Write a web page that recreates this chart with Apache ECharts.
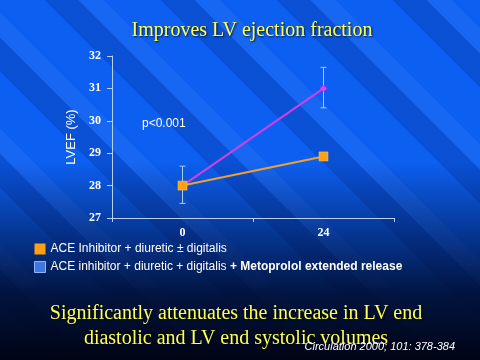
<!DOCTYPE html>
<html>
<head>
<meta charset="utf-8">
<script src="https://cdn.jsdelivr.net/npm/echarts@6/dist/echarts.min.js"></script>
<style>
html,body{margin:0;padding:0;}
#chart{width:480px;height:360px;
background:
 linear-gradient(to bottom, rgba(0,8,40,0) 0%, rgba(0,8,40,0) 45%, rgba(0,20,70,0.55) 65%, rgba(0,12,45,0.9) 82%, rgba(0,4,20,1) 100%),
 repeating-linear-gradient(45deg, rgba(0,0,0,0) 0px, rgba(0,0,0,0) 40px, rgba(0,30,120,0.22) 40px, rgba(0,30,120,0.22) 64px, rgba(90,150,255,0.14) 64px, rgba(90,150,255,0.14) 82px),
 #0c5ff0;}
</style>
</head>
<body>
<div id="chart"></div>
<script>
// ---- data ----
var categories = ['0', '24'];
var seriesNames = ['ACE Inhibitor + diuretic \u00b1 digitalis', 'ACE inhibitor + diuretic + digitalis + Metoprolol extended release'];
var controlValues = [28.0, 28.9];
var metoprololValues = [28.0, 31.0];
var errLow = [27.45, 30.4];
var errHigh = [28.6, 31.65];
var yTicks = [27, 28, 29, 30, 31, 32];

var chart = echarts.init(document.getElementById('chart'), null, {renderer: 'canvas'});
var errData = categories.map(function (c, i) { return [i, errLow[i], errHigh[i]]; });

chart.setOption({
  animation: false,
  backgroundColor: 'transparent',
  title: [{
    text: 'Improves LV ejection fraction', left: 247, textAlign: 'center', top: 16,
    textStyle: {color: '#ffff55', fontFamily: 'Liberation Serif', fontSize: 20, fontWeight: 'normal',
      textShadowColor: 'rgba(0,0,0,0.8)', textShadowBlur: 2, textShadowOffsetX: 1, textShadowOffsetY: 1}
  }],
  grid: {left: 112, right: 86, top: 56, bottom: 142},
  xAxis: {
    type: 'category', data: categories, boundaryGap: true,
    axisLine: {lineStyle: {color: '#b8d0ff', width: 1}},
    axisTick: {show: true, length: 4, lineStyle: {color: '#b8d0ff'}},
    axisLabel: {color: '#ffffff', fontFamily: 'Liberation Serif', fontWeight: 'bold', fontSize: 12, margin: 9}
  },
  yAxis: {
    type: 'value', min: yTicks[0], max: yTicks[yTicks.length - 1], interval: 1,
    name: 'LVEF (%)', nameLocation: 'middle', nameRotate: 90, nameGap: 27,
    nameTextStyle: {color: '#ffffff', fontFamily: 'Liberation Sans', fontSize: 13},
    splitLine: {show: false},
    axisLine: {show: true, lineStyle: {color: '#b8d0ff', width: 1}},
    axisTick: {show: true, length: 5, lineStyle: {color: '#b8d0ff'}},
    axisLabel: {color: '#ffffff', fontFamily: 'Liberation Serif', fontWeight: 'bold', fontSize: 12, margin: 11}
  },
  legend: {
    orient: 'vertical', left: 29, top: 238, itemWidth: 11, itemHeight: 11, itemGap: 6,
    selectedMode: false,
    data: [
      {name: seriesNames[0], icon: 'rect', itemStyle: {color: '#ffa010', borderWidth: 0}},
      {name: seriesNames[1], icon: 'rect', itemStyle: {color: '#3c78e0', borderColor: '#90b4ff', borderWidth: 1}}
    ],
    formatter: function (name) {
      if (name === seriesNames[1]) {
        return '{a|ACE inhibitor + diuretic + digitalis }{b|+ Metoprolol extended release}';
      }
      return '{a|' + name + '}';
    },
    textStyle: {
      color: '#ffffff', fontFamily: 'Liberation Sans', fontSize: 12,
      rich: {
        a: {color: '#ffffff', fontFamily: 'Liberation Sans', fontSize: 12},
        b: {color: '#ffffff', fontFamily: 'Liberation Sans', fontSize: 12, fontWeight: 'bold'}
      }
    }
  },
  graphic: [
    {type: 'text', left: 142, top: 118, style: {text: 'p<0.001', fill: '#ffffff', font: '12px "Liberation Sans"'}},
    {type: 'text', x: 236, y: 301, style: {
      text: 'Significantly attenuates the increase in LV end\ndiastolic and LV end systolic volumes',
      fill: '#ffff55', font: '20px "Liberation Serif"', align: 'center', lineHeight: 25,
      textShadowColor: 'rgba(0,0,0,0.8)', textShadowBlur: 2, textShadowOffsetX: 1, textShadowOffsetY: 1
    }},
    {type: 'text', right: 25, top: 341, style: {
      text: 'Circulation 2000; 101: 378-384', fill: '#ffffff', font: 'italic 11px "Liberation Sans"'
    }}
  ],
  series: [
    {
      type: 'custom', name: 'err', z: 1, silent: true,
      data: errData,
      renderItem: function (params, api) {
        var lo = api.coord([api.value(0), api.value(1)]);
        var hi = api.coord([api.value(0), api.value(2)]);
        var w = 3;
        var st = {stroke: '#a8c8ff', lineWidth: 1};
        return {type: 'group', children: [
          {type: 'line', shape: {x1: lo[0], y1: lo[1], x2: hi[0], y2: hi[1]}, style: st},
          {type: 'line', shape: {x1: lo[0] - w, y1: lo[1], x2: lo[0] + w, y2: lo[1]}, style: st},
          {type: 'line', shape: {x1: hi[0] - w, y1: hi[1], x2: hi[0] + w, y2: hi[1]}, style: st}
        ]};
      }
    },
    {
      type: 'line', name: seriesNames[1], data: metoprololValues, z: 3,
      symbol: 'diamond', symbolSize: 7,
      lineStyle: {color: '#d040e8', width: 2},
      itemStyle: {color: '#e040f0'}
    },
    {
      type: 'line', name: seriesNames[0], data: controlValues, z: 4,
      symbol: 'rect', symbolSize: 9,
      lineStyle: {color: '#f0a030', width: 2},
      itemStyle: {color: '#ffa010', borderColor: '#ffcc66', borderWidth: 0.5}
    }
  ]
});
</script>
</body>
</html>
